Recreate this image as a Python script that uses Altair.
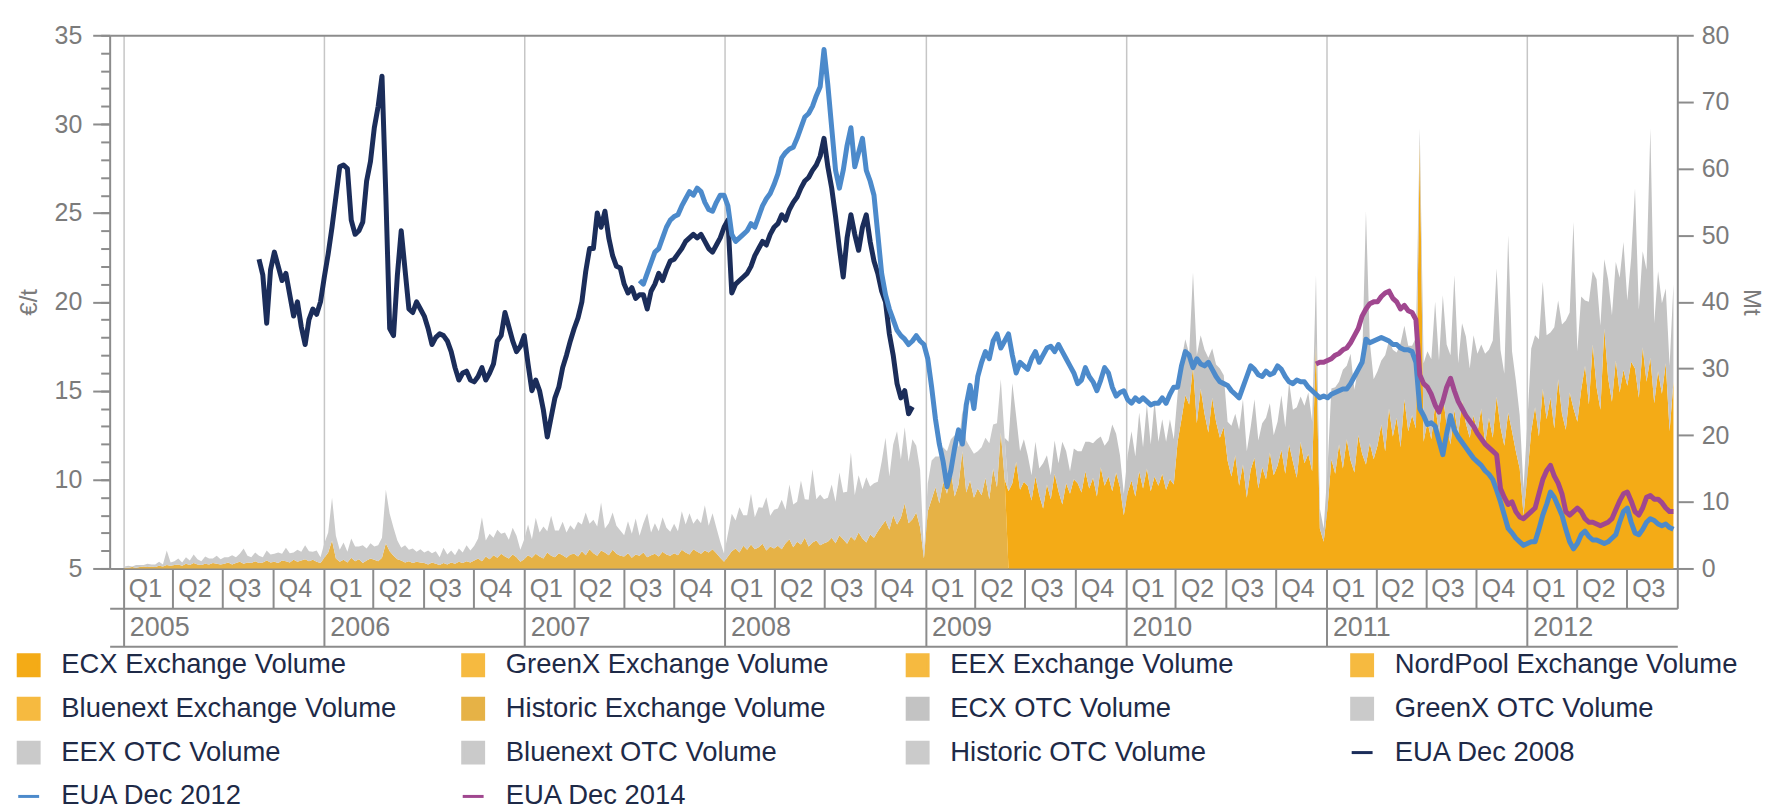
import altair as alt
import pandas as pd

# ---------------- legend / series ----------------
SERIES = [
    "ECX Exchange Volume", "GreenX Exchange Volume", "EEX Exchange Volume", "NordPool Exchange Volume",
    "Bluenext Exchange Volume", "Historic Exchange Volume", "ECX OTC Volume", "GreenX OTC Volume",
    "EEX OTC Volume", "Bluenext OTC Volume", "Historic OTC Volume", "EUA Dec 2008",
    "EUA Dec 2012", "EUA Dec 2014",
]
COLORS = [
    "#F4AB16", "#F6BA40", "#F6BA40", "#F6BA40",
    "#F6BA40", "#E6B246", "#C3C3C3", "#CACACA",
    "#CACACA", "#CACACA", "#CBCBCB", "#1B2D5A",
    "#4C8ACB", "#A0478F",
]

# ---------------- prices (weekly, EUR/t) ----------------
DEC08_START = "2005-09-05"
dec08 = [
    22.4, 21.5, 18.8, 21.8,
    22.8, 22.0, 21.2, 21.6, 20.4,
    19.2, 20.0, 18.6, 17.6,
    19.0, 19.6, 19.3, 20.0,
    21.4, 22.7, 24.2, 25.9, 27.6,
    27.7, 27.5, 24.6, 23.8,
    24.0, 24.5, 26.8, 27.9,
    29.8, 31.0, 32.7, 26.0,
    18.5, 18.1, 21.5, 24.0, 21.8,
    19.6, 19.4, 20.0, 19.6,
    19.2, 18.5, 17.6, 18.0, 18.2,
    18.1, 17.8, 17.2, 16.3,
    15.6, 16.0, 16.1, 15.6,
    15.5, 15.8, 16.3, 15.6, 16.0,
    16.5, 17.8, 18.1, 19.4,
    18.6, 17.8, 17.2, 17.5,
    18.1, 16.5, 15.0, 15.6, 15.0,
    13.9, 12.4, 13.5, 14.6,
    15.2, 16.3, 17.0, 17.8,
    18.5, 19.1, 20.0, 21.7, 23.0,
    23.0, 25.0, 24.2, 25.1,
    23.6, 22.6, 22.0, 21.9,
    21.0, 20.5, 20.8, 20.2, 20.4,
    20.4, 19.6, 20.6, 21.0,
    21.6, 21.2, 21.8, 22.3,
    22.4, 22.7, 23.0, 23.4, 23.6,
    23.8, 23.6, 23.8, 23.4,
    23.0, 22.8, 23.2, 23.6, 24.2,
    24.6, 20.5, 21.0, 21.2,
    21.4, 21.6, 22.0, 22.6,
    23.0, 23.4, 23.2, 23.8, 24.2,
    24.4, 24.9, 24.6, 25.2,
    25.6, 25.9, 26.4, 26.8,
    27.0, 27.4, 27.7, 28.2, 29.2,
    27.6, 26.4, 24.8, 23.0,
    21.4, 23.6, 24.9, 23.8,
    22.9, 24.2, 24.9, 23.4, 22.3,
    21.6, 20.6, 20.0, 18.2,
    17.0, 15.4, 14.6, 15.0,
    13.7, 14.1,
]

DEC12_START = "2007-07-30"
dec12 = [
    21.2,
    21.0, 21.6, 22.2, 22.8,
    23.0, 23.6, 24.2, 24.6,
    24.8, 24.9, 25.4, 25.8, 26.2,
    26.0, 26.4, 26.2, 25.6,
    25.2, 25.1, 25.6, 26.0, 26.0,
    25.4, 23.8, 23.4, 23.6,
    23.8, 24.0, 24.4, 24.2,
    24.8, 25.4, 25.8, 26.1, 26.6,
    27.2, 28.1, 28.4, 28.6,
    28.7, 29.2, 29.8, 30.4,
    30.6, 31.0, 31.6, 32.1, 34.2,
    32.2, 29.8, 27.4, 26.4,
    27.4, 28.8, 29.8, 27.6,
    28.4, 29.2, 27.4, 26.8, 26.0,
    23.8, 21.6, 20.4, 19.6,
    19.0, 18.4, 18.1, 17.9,
    17.6, 17.8, 18.1, 17.8, 17.6,
    16.8, 15.2, 13.4, 12.0,
    11.0, 9.6, 10.5, 11.8,
    12.8, 12.0, 14.2, 15.3, 14.0,
    15.8, 16.6, 17.2, 16.8,
    17.8, 18.2, 17.4, 17.8,
    18.2, 17.0, 16.0, 16.6, 16.4,
    16.2, 16.8, 17.2, 16.6,
    17.0, 17.4, 17.5, 17.2, 17.6,
    17.2, 16.8, 16.4, 16.0,
    15.4, 15.6, 16.3, 15.8,
    15.5, 15.0, 15.6, 16.3, 16.0,
    15.2, 14.7, 14.9, 15.0,
    14.5, 14.3, 14.6, 14.4,
    14.6, 14.4, 14.2, 14.3,
    14.3, 14.6, 14.3, 14.8, 15.2,
    15.2, 16.4, 17.2, 17.0,
    16.3, 16.8, 16.5, 16.4, 16.6,
    16.2, 15.8, 15.5, 15.4,
    15.3, 15.0, 14.8, 14.6,
    15.2, 15.8, 16.4, 16.2, 15.9,
    15.8, 16.1, 15.9, 16.0,
    16.4, 16.2, 15.8, 15.5,
    15.4, 15.6, 15.5, 15.5, 15.2,
    15.0, 14.8, 14.6, 14.7,
    14.6, 14.8, 14.9, 15.0, 15.1,
    15.1, 15.4, 15.8, 16.2,
    16.6, 17.9, 17.7, 17.8,
    17.9, 18.0, 17.9, 17.8,
    17.6, 17.6, 17.4, 17.3, 17.3,
    17.2, 16.6, 14.0, 13.6,
    13.1, 13.2, 13.0, 12.2,
    11.4, 12.6, 13.6, 12.8, 12.4,
    12.1, 11.8, 11.5, 11.2,
    11.0, 10.8, 10.5, 10.3, 10.0,
    9.4, 8.75, 8.0, 7.25,
    7.0, 6.7, 6.5, 6.3,
    6.4, 6.5, 6.5, 7.2, 8.0,
    8.6, 9.3, 9.0, 8.5,
    8.0, 7.2, 6.5, 6.1,
    6.4, 6.9, 7.1, 6.8, 6.6,
    6.6, 6.5, 6.4, 6.5,
    6.7, 6.9, 7.6, 8.2,
    8.4, 7.6, 7.0, 6.9, 7.2,
    7.6, 7.8, 7.7, 7.5,
    7.4, 7.5, 7.3, 7.2,
]

DEC14_START = "2010-12-13"
dec14 = [
    16.5, 16.6, 16.6,
    16.7, 16.8, 17.0, 17.1, 17.3,
    17.4, 17.7, 18.1, 18.5,
    19.2, 19.6, 19.9, 20.0,
    20.0, 20.3, 20.5, 20.6,
    20.2, 20.0, 19.6, 19.8, 19.5,
    19.4, 19.0, 15.9, 15.4,
    15.2, 14.8, 14.2, 13.8,
    14.4, 15.2, 15.7, 15.0, 14.4,
    14.0, 13.6, 13.3, 13.0,
    12.6, 12.3, 12.0, 11.8, 11.6,
    11.4, 9.5, 9.0, 8.6,
    8.75, 8.2, 7.9, 7.8,
    8.0, 8.2, 8.4, 9.2, 10.0,
    10.5, 10.8, 10.2, 9.8,
    9.2, 8.2, 8.0, 8.2,
    8.4, 8.2, 7.8, 7.6, 7.6,
    7.5, 7.4, 7.5, 7.6,
    7.8, 8.3, 8.8, 9.2,
    9.3, 8.8, 8.2, 8.0, 8.4,
    9.0, 9.1, 8.9, 8.9,
    8.7, 8.4, 8.2, 8.2,
]

# ---------------- volumes (weekly, Mt) ----------------
VOL_START = "2005-01-03"
exch_2005 = [0.1, 0.1, 0.2, 0.1, 0.2, 0.3, 0.2, 0.3, 0.2, 0.4, 0.3, 0.5, 0.4,
             0.5, 0.6, 0.4, 0.7, 0.5, 0.8, 0.6, 0.5, 0.7, 0.6, 0.8, 0.7, 0.6,
             0.7, 0.9, 0.6, 0.8, 1.0, 0.7, 0.9, 0.8, 1.1, 0.8, 0.9, 1.2, 0.9,
             1.0, 0.8, 1.2, 1.1, 0.9, 1.3, 1.0, 1.2, 1.4, 1.1, 1.3, 1.0, 0.8]
otc_2005 = [0.2, 0.3, 0.1, 0.4, 0.3, 0.2, 0.5, 0.3, 0.4, 0.6, 0.3, 2.2, 0.5,
            0.6, 0.9, 0.5, 1.0, 0.7, 1.3, 0.8, 0.6, 1.1, 0.9, 0.7, 1.2, 0.8,
            1.0, 0.8, 1.4, 0.9, 1.2, 2.3, 1.0, 0.9, 1.3, 1.1, 0.8, 1.5, 1.2,
            1.2, 1.6, 1.0, 2.0, 1.4, 1.1, 1.8, 1.3, 2.1, 1.5, 1.2, 1.7, 0.9]
exch_2006 = [1.6, 2.4, 4.2, 1.5, 1.0, 1.3, 0.9, 1.6, 1.1, 1.4, 0.8, 1.2, 1.5,
             1.3, 1.1, 1.6, 3.8, 2.6, 1.9, 1.4, 1.2, 0.9, 1.1, 0.8, 1.0, 0.9,
             0.8, 0.6, 0.9, 0.7, 0.5, 0.8, 0.6, 0.9, 0.7, 1.0, 0.8, 1.1, 0.9,
             1.2, 1.5, 1.1, 1.8, 1.4, 2.0, 1.6, 2.2, 1.8, 1.5, 2.1, 1.7, 1.0]
otc_2006 = [2.2, 3.0, 6.4, 3.4, 1.8, 2.6, 1.6, 2.9, 2.2, 1.9, 2.7, 1.8, 2.3,
            2.0, 2.4, 3.0, 8.0, 5.6, 4.2, 2.8, 1.9, 2.6, 1.7, 2.2, 1.5, 2.0,
            1.6, 2.1, 1.4, 1.9, 1.2, 2.3, 1.5, 1.8, 1.3, 2.0, 1.6, 2.4, 1.8,
            2.2, 3.0, 6.6, 2.4, 3.8, 2.6, 4.2, 3.0, 3.6, 2.8, 4.0, 3.2, 1.8]
exch_2007 = [1.4, 2.0, 1.6, 2.2, 1.8, 1.5, 2.4, 1.9, 1.7, 2.3, 2.0, 1.6, 2.1,
             2.2, 1.8, 2.6, 2.0, 2.9, 2.3, 1.9, 2.7, 2.4, 2.0, 2.8, 2.2, 1.9,
             1.8, 2.3, 1.6, 2.1, 1.9, 2.4, 1.7, 2.0, 2.2, 1.8, 2.5, 2.1, 1.9,
             2.3, 2.0, 2.8, 2.4, 2.1, 2.9, 2.5, 2.2, 2.7, 2.4, 2.9, 2.3, 1.6, 1.0]
otc_2007 = [3.0, 4.6, 2.8, 5.4, 3.6, 4.8, 3.2, 6.0, 4.0, 3.4, 5.0, 3.8, 4.4,
            3.6, 5.2, 4.0, 6.4, 3.8, 5.0, 4.4, 7.2, 3.6, 4.8, 5.6, 4.2, 3.8,
            3.2, 4.8, 3.6, 5.4, 3.0, 4.4, 6.6, 3.4, 4.6, 3.8, 5.2, 4.0, 3.6,
            4.4, 3.6, 5.8, 4.2, 6.2, 3.8, 5.0, 4.6, 6.8, 4.0, 5.4, 3.8, 2.4, 1.2]
exch_2008 = [1.8, 2.6, 3.0, 2.4, 3.4, 2.8, 3.6, 2.9, 3.2, 3.7, 2.7, 3.3, 3.0,
             3.4, 2.9, 3.8, 4.4, 3.2, 4.0, 3.6, 4.6, 3.3, 3.9, 4.2, 3.5, 3.8,
             4.0, 4.6, 3.8, 5.0, 4.4, 3.7, 4.8, 4.2, 5.4, 4.5, 3.9, 5.1, 4.6,
             5.6, 6.4, 7.2, 5.8, 8.0, 6.6, 7.6, 9.8, 6.8, 7.4, 8.4, 6.2, 1.5]
otc_2008 = [3.4, 5.6, 4.2, 6.8, 4.6, 5.2, 7.6, 4.8, 6.0, 5.4, 8.0, 4.6, 5.8,
            5.6, 7.4, 5.0, 8.2, 6.4, 6.0, 9.6, 5.8, 7.0, 11.0, 6.2, 7.6, 6.6,
            6.6, 8.0, 6.2, 9.4, 7.0, 7.8, 12.6, 6.8, 8.6, 7.4, 9.8, 7.2, 8.2,
            7.4, 9.6, 12.4, 8.0, 10.6, 14.0, 8.8, 11.4, 9.2, 12.0, 10.0, 8.6, 1.0]
exch_2009 = [8.6, 10.4, 12.2, 9.8, 13.0, 11.2, 14.6, 10.8, 12.6, 17.6, 11.4, 13.2, 10.6,
             12.0, 11.0, 13.6, 10.4, 15.0, 12.2, 20.4, 13.4, 11.6, 12.8, 16.0, 11.8, 13.0,
             12.4, 10.2, 13.8, 11.0, 9.0, 12.6, 10.4, 14.2, 11.6, 9.6, 12.8, 11.2, 13.4,
             12.8, 11.4, 14.6, 12.0, 13.6, 10.8, 15.2, 12.4, 13.8, 11.6, 14.4, 12.2, 8.0]
otc_2009 = [4.2, 5.8, 4.6, 7.0, 5.2, 6.4, 4.8, 9.2, 5.6, 6.2, 7.8, 5.0, 6.6,
            5.6, 7.2, 6.0, 8.4, 6.6, 9.6, 8.0, 6.2, 7.4, 15.0, 6.8, 5.8, 6.4,
            4.6, 3.8, 5.2, 4.0, 6.8, 4.4, 3.6, 5.0, 4.2, 9.4, 4.8, 3.4, 4.6,
            4.8, 6.2, 4.4, 7.0, 5.2, 8.6, 4.6, 6.0, 5.4, 10.0, 5.8, 4.8, 3.2]
exch_2010 = [11.4, 13.2, 10.8, 14.6, 12.0, 15.0, 11.6, 13.8, 12.4, 14.2, 11.8, 13.4, 12.6,
             19.0, 22.4, 26.0, 24.6, 30.4, 21.8, 27.0, 23.2, 20.4, 25.6, 22.0, 19.6, 21.2,
             16.2, 13.8, 17.0, 12.4, 15.6, 10.6, 14.8, 16.6, 12.0, 15.2, 13.4, 17.4, 14.0,
             15.4, 17.8, 14.2, 18.6, 16.0, 13.6, 19.0, 15.8, 17.2, 14.6, 34.0, 6.0, 4.0]
otc_2010 = [5.6, 7.4, 6.0, 8.8, 6.2, 9.6, 7.0, 11.4, 6.6, 8.2, 7.2, 9.0, 6.8,
            7.2, 9.0, 8.4, 7.6, 14.0, 10.2, 8.0, 9.6, 11.2, 7.4, 8.6, 10.4, 7.8,
            5.8, 7.6, 6.2, 8.4, 9.8, 7.0, 6.4, 8.8, 7.2, 6.6, 9.2, 7.4, 6.0,
            6.6, 8.2, 7.0, 9.4, 7.8, 10.6, 6.8, 8.6, 9.2, 7.4, 10.0, 3.0, 2.0]
exch_2011 = [9.0, 16.4, 14.2, 18.6, 15.0, 19.4, 16.2, 14.4, 20.0, 17.2, 15.6, 18.8, 16.4,
             18.4, 21.6, 17.6, 24.0, 19.8, 22.6, 18.2, 25.4, 20.6, 23.0, 21.0, 64.0, 19.0,
             22.0, 19.4, 24.6, 20.2, 26.0, 21.4, 18.6, 23.8, 20.0, 25.2, 21.8, 19.6, 23.0,
             20.4, 24.0, 18.8, 22.6, 19.6, 25.8, 21.2, 18.4, 23.4, 20.6, 17.6, 15.0, 8.0]
otc_2011 = [6.0, 10.6, 13.0, 9.4, 14.8, 11.0, 16.0, 12.4, 10.2, 13.6, 38.0, 15.2, 12.0,
            11.2, 9.6, 14.4, 10.2, 13.0, 9.8, 15.6, 11.0, 12.8, 10.4, 13.6, 2.0, 11.8,
            10.6, 12.0, 15.4, 11.0, 15.0, 12.2, 13.4, 20.2, 10.8, 11.6, 13.0, 10.4, 12.0,
            11.8, 9.6, 13.4, 10.2, 14.6, 19.2, 11.6, 10.8, 26.6, 12.0, 10.6, 8.0, 4.0]
exch_2012 = [14.0, 20.6, 24.2, 19.8, 27.0, 22.4, 25.6, 21.0, 28.4, 23.2, 20.8, 26.4, 24.0,
             22.0, 26.8, 30.4, 24.6, 33.6, 27.2, 23.8, 36.0, 28.6, 25.0, 31.2, 26.4, 29.8,
             27.4, 31.0, 30.0, 25.6, 33.2, 28.0, 31.6, 24.8, 29.6, 26.2, 30.8, 20.6, 28.0]
otc_2012 = [8.0, 12.4, 10.8, 14.6, 16.0, 12.6, 9.8, 15.2, 11.8, 13.4, 16.4, 12.0, 28.0,
            10.6, 14.0, 9.8, 15.4, 11.0, 16.2, 12.6, 10.4, 14.8, 13.0, 14.8, 17.2, 19.2,
            12.8, 15.6, 27.0, 13.2, 14.4, 16.8, 34.4, 12.0, 15.0, 13.6, 11.2, 9.8, 14.6]

SWITCH_DATE = "2009-06-01"   # historic -> ECX reporting

# ---------------- tables ----------------
def weekly(start, n):
    return pd.date_range(start, periods=n, freq="7D")

price_parts = []
for name, start, vals in [("EUA Dec 2008", DEC08_START, dec08),
                          ("EUA Dec 2012", DEC12_START, dec12),
                          ("EUA Dec 2014", DEC14_START, dec14)]:
    price_parts.append(pd.DataFrame({"date": weekly(start, len(vals)), "price": vals, "series": name}))
prices = pd.concat(price_parts, ignore_index=True)

exch = exch_2005 + exch_2006 + exch_2007 + exch_2008 + exch_2009 + exch_2010 + exch_2011 + exch_2012
otc = otc_2005 + otc_2006 + otc_2007 + otc_2008 + otc_2009 + otc_2010 + otc_2011 + otc_2012
vdates = weekly(VOL_START, len(exch))
cut = pd.Timestamp(SWITCH_DATE)
rows = []
for d, e, o in zip(vdates, exch, otc):
    early = d < cut
    rows.append({"date": d, "series": "Historic Exchange Volume", "vol": e if early else 0.0, "ord": 0})
    rows.append({"date": d, "series": "ECX Exchange Volume", "vol": 0.0 if early else e, "ord": 1})
    rows.append({"date": d, "series": "Historic OTC Volume", "vol": o if early else 0.0, "ord": 2})
    rows.append({"date": d, "series": "ECX OTC Volume", "vol": 0.0 if early else o, "ord": 3})
vol = pd.DataFrame(rows)

anchor = pd.DataFrame({"date": [pd.Timestamp("2008-07-01")], "v": [20.0]})

# ---------------- styling ----------------
FONT = "Liberation Sans"
GREY = "#8c8c8c"
LABEL = "#7b7b7b"
W, H = 1573, 535

x_scale = alt.Scale(domain=[alt.DateTime(year=2004, month=12, date=7),
                            alt.DateTime(year=2012, month=10, date=1, hours=1)], nice=False)
color_scale = alt.Scale(domain=SERIES, range=COLORS)
LINE_SET = "['EUA Dec 2008','EUA Dec 2012','EUA Dec 2014']"
legend = alt.Legend(
    orient="none", direction="horizontal", legendX=-95, legendY=618, columns=4, gridAlign="all",
    columnPadding=52, rowPadding=10, padding=0, title=None,
    symbolType=alt.ExprRef(expr=f"indexof({LINE_SET}, datum.value) >= 0 ? 'stroke' : 'square'"),
    symbolSize=440, symbolStrokeWidth=3, symbolOpacity=1,
    symbolFillColor=alt.ExprRef(expr="scale('color', datum.value)"),
    symbolStrokeColor=alt.ExprRef(expr="scale('color', datum.value)"),
    labelFont=FONT, labelFontSize=27.5, labelColor="#1e2a47", labelLimit=700, labelOffset=19,
)

area = alt.Chart(vol).mark_area(interpolate="linear").encode(
    x=alt.X("date:T", scale=x_scale, axis=None),
    y=alt.Y("vol:Q", stack="zero", scale=alt.Scale(domain=[0, 80], nice=False),
            axis=alt.Axis(orient="right", title="Mt", tickCount=8, tickSize=16, tickWidth=2,
                          tickColor=GREY, domainColor=GREY, domainWidth=2, labelPadding=8,
                          labelFont=FONT, labelFontSize=25, labelColor=LABEL, grid=False,
                          titleFont=FONT, titleFontSize=24, titleFontWeight="normal",
                          titleColor=LABEL, titlePadding=10)),
    color=alt.Color("series:N", scale=color_scale, legend=legend),
    order=alt.Order("ord:Q"),
)

lines = alt.Chart(prices).mark_line(strokeWidth=5, strokeJoin="round").encode(
    x=alt.X("date:T", scale=x_scale, axis=None),
    y=alt.Y("price:Q", scale=alt.Scale(domain=[5, 35], nice=False, zero=False),
            axis=alt.Axis(orient="left", title="€/t", tickCount=6, tickSize=17, tickWidth=2,
                          tickColor=GREY, domainColor=GREY, domainWidth=2, labelPadding=11,
                          labelFont=FONT, labelFontSize=25, labelColor=LABEL, grid=False,
                          titleFont=FONT, titleFontSize=24, titleFontWeight="normal",
                          titleColor=LABEL, titlePadding=13)),
    color=alt.Color("series:N", scale=color_scale, legend=legend),
    detail="series:N",
)

q_axis = alt.Axis(
    orient="bottom", tickCount={"interval": "month", "step": 3},
    labelExpr="datum.value >= datetime(2012, 9, 1) ? '' : 'Q' + (floor(month(datum.value) / 3) + 1)",
    tickSize=40, tickWidth=2, tickColor=GREY, domainColor=GREY, domainWidth=2,
    labelAlign="left", labelBaseline="middle", labelPadding=-20, labelOffset=5,
    labelFlush=False, labelOverlap=False, labelFont=FONT, labelFontSize=25, labelColor=LABEL,
    grid=False, title=None,
)
year_axis = alt.Axis(
    orient="bottom", offset=40, tickCount={"interval": "year", "step": 1}, format="%Y",
    tickSize=38, tickWidth=2, tickColor=GREY, domainColor=GREY, domainWidth=2,
    labelAlign="left", labelBaseline="middle", labelPadding=-19, labelOffset=6,
    labelFlush=False, labelOverlap=False, labelFont=FONT, labelFontSize=27, labelColor=LABEL,
    grid=True, gridColor="#c6c6c6", gridWidth=1.5, title=None,
)
bottom_axis = alt.Axis(orient="bottom", offset=78, ticks=False, labels=False, grid=False,
                       domainColor=GREY, domainWidth=2, title=None)
top_axis = alt.Axis(orient="top", ticks=False, labels=False, grid=False,
                    domainColor=GREY, domainWidth=2, title=None)

minor = alt.Chart(anchor).mark_point(opacity=0).encode(
    x=alt.X("date:T", scale=x_scale, axis=q_axis),
    y=alt.Y("v:Q", scale=alt.Scale(domain=[5, 35], nice=False, zero=False),
            axis=alt.Axis(orient="left", tickCount=30, tickSize=9, tickWidth=2, tickColor=GREY,
                          labels=False, domain=False, grid=False, title=None)),
)
years = alt.Chart(anchor).mark_point(opacity=0).encode(x=alt.X("date:T", scale=x_scale, axis=year_axis))
bottom = alt.Chart(anchor).mark_point(opacity=0).encode(x=alt.X("date:T", scale=x_scale, axis=bottom_axis))
top = alt.Chart(anchor).mark_point(opacity=0).encode(x=alt.X("date:T", scale=x_scale, axis=top_axis))

chart = (
    alt.layer(area, lines, minor, years, bottom, top)
    .resolve_scale(y="independent")
    .resolve_axis(x="independent", y="independent")
    .properties(width=W, height=H, autosize=alt.AutoSizeParams(type="none"),
                padding={"left": 102, "top": 26, "right": 90, "bottom": 241})
    .configure_view(strokeWidth=0)
)

chart.save("out.html", embed_options={"renderer": "svg", "actions": False})
